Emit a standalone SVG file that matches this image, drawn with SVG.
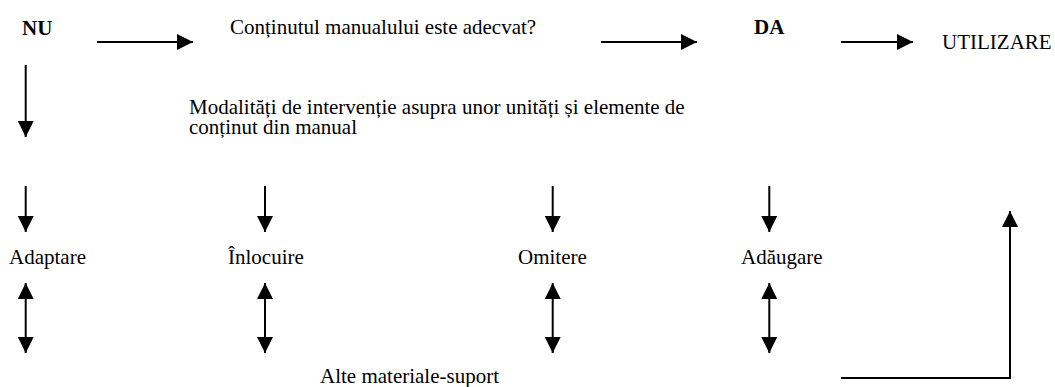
<svg xmlns="http://www.w3.org/2000/svg" width="1055" height="387" viewBox="0 0 1055 387">
<style>
text { font-family: "Liberation Serif", "Times New Roman", serif; font-size: 21px; fill: #000; }
.b { font-weight: bold; }
.c { fill: none; stroke: #000; stroke-width: 2; }
</style>
<defs>
<marker id="ah" markerUnits="userSpaceOnUse" markerWidth="16" markerHeight="16" viewBox="0 0 16 16" refX="16" refY="8" orient="auto-start-reverse">
<path d="M0,0 L16,8 L0,16 z" fill="#000"/>
</marker>
</defs>
<rect width="1055" height="387" fill="#fff"/>
<g id="nu"><text class="b" x="22" y="35">NU</text></g>
<g id="question"><text x="230" y="34">Conținutul manualului este adecvat?</text></g>
<g id="da"><text class="b" x="754" y="34">DA</text></g>
<g id="utilizare"><text x="942" y="48.5">UTILIZARE</text></g>
<g id="modalitati"><text x="189" y="114"><tspan x="189" y="114">Modalități de intervenție asupra unor unități și elemente de</tspan><tspan x="189" y="134">conținut din manual</tspan></text></g>
<g id="adaptare"><text x="9" y="264">Adaptare</text></g>
<g id="inlocuire"><text x="228" y="264">Înlocuire</text></g>
<g id="omitere"><text x="518" y="264">Omitere</text></g>
<g id="adaugare"><text x="741" y="264">Adăugare</text></g>
<g id="alte"><text x="320" y="383">Alte materiale-suport</text></g>
<g id="connectors">
<line class="c" x1="97" y1="42" x2="193" y2="42" marker-end="url(#ah)"/>
<line class="c" x1="601" y1="42" x2="697" y2="42" marker-end="url(#ah)"/>
<line class="c" x1="841" y1="42" x2="913" y2="42" marker-end="url(#ah)"/>
<line class="c" x1="25.7" y1="65" x2="25.7" y2="137" marker-end="url(#ah)"/>
<line class="c" x1="25.7" y1="186" x2="25.7" y2="232" marker-end="url(#ah)"/>
<line class="c" x1="265" y1="186" x2="265" y2="232" marker-end="url(#ah)"/>
<line class="c" x1="552.7" y1="186" x2="552.7" y2="232" marker-end="url(#ah)"/>
<line class="c" x1="769.3" y1="186" x2="769.3" y2="232" marker-end="url(#ah)"/>
<line class="c" x1="25.7" y1="283" x2="25.7" y2="353" marker-start="url(#ah)" marker-end="url(#ah)"/>
<line class="c" x1="265" y1="283" x2="265" y2="353" marker-start="url(#ah)" marker-end="url(#ah)"/>
<line class="c" x1="552.7" y1="283" x2="552.7" y2="353" marker-start="url(#ah)" marker-end="url(#ah)"/>
<line class="c" x1="769.3" y1="283" x2="769.3" y2="353" marker-start="url(#ah)" marker-end="url(#ah)"/>
<polyline class="c" points="841,378 1010,378 1010,211" marker-end="url(#ah)"/>
</g>
</svg>
